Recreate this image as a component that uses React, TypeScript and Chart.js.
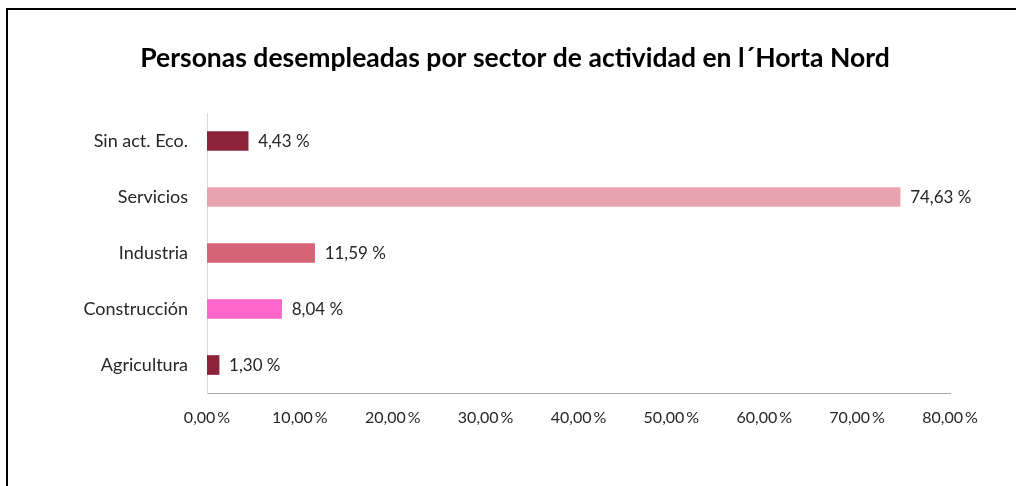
import React, { useEffect, useRef } from "react";
import { Chart, registerables } from "chart.js";

Chart.register(...registerables);

const TITLE = "Personas desempleadas por sector de actividad en l´Horta Nord";
const CATEGORIES = ["Sin act. Eco.", "Servicios", "Industria", "Construcción", "Agricultura"];
const VALUES = [4.43, 74.63, 11.59, 8.04, 1.3];
const COLORS = ["#8C2339", "#E8A3AF", "#D66376", "#FF66CC", "#8C2339"];
const X_MIN = 0;
const X_MAX = 80;
const X_STEP = 10;

const FONT = "Lato, 'Open Sans', sans-serif";

const fmt = (v: number) => v.toFixed(2).replace(".", ",");

const titlePlugin = {
  id: "customTitle",
  afterDraw(chart: any) {
    const ctx = chart.ctx;
    ctx.save();
    ctx.font = `bold 26.5px ${FONT}`;
    ctx.fillStyle = "#000000";
    ctx.textAlign = "center";
    ctx.textBaseline = "middle";
    ctx.fillText(TITLE, 515, 58);
    ctx.restore();
  },
};

const valueLabels = {
  id: "valueLabels",
  afterDatasetsDraw(chart: any) {
    const ctx = chart.ctx;
    const meta = chart.getDatasetMeta(0);
    ctx.save();
    ctx.font = `17px ${FONT}`;
    ctx.fillStyle = "#262626";
    ctx.textAlign = "left";
    ctx.textBaseline = "middle";
    meta.data.forEach((bar: any, i: number) => {
      ctx.fillText(fmt(VALUES[i]) + " %", bar.x + 10, bar.y + 1);
    });
    ctx.restore();
  },
};

export default function App() {
  const ref = useRef<HTMLCanvasElement | null>(null);
  useEffect(() => {
    if (!ref.current) return;
    const chart = new Chart(ref.current, {
      type: "bar",
      data: {
        labels: CATEGORIES,
        datasets: [
          {
            data: VALUES,
            backgroundColor: COLORS,
            borderWidth: 0,
            barThickness: 19,
          },
        ],
      },
      options: {
        indexAxis: "y",
        animation: false,
        responsive: false,
        maintainAspectRatio: false,
        layout: { padding: { left: 77, right: 66, top: 113, bottom: 53 } },
        plugins: {
          legend: { display: false },
          title: { display: false },
          tooltip: { enabled: false },
        },
        scales: {
          x: {
            min: X_MIN,
            max: X_MAX,
            ticks: {
              stepSize: X_STEP,
              padding: 15,
              color: "#262626",
              font: { family: FONT, size: 16 },
              callback: (v: any) => fmt(Number(v)) + "\u2009%",
              maxRotation: 0,
            },
            grid: { display: false, drawTicks: false },
            border: { display: true, color: "#A6A6A6", width: 1 },
            afterFit: (s: any) => {
              s.height = 40;
            },
          },
          y: {
            ticks: {
              padding: 19,
              color: "#262626",
              font: { family: FONT, size: 18 },
            },
            grid: { display: false, drawTicks: false },
            border: { display: true, color: "#D9D9D9", width: 1 },
            afterFit: (s: any) => {
              s.width = 130;
            },
          },
        },
      },
      plugins: [titlePlugin, valueLabels],
    });
    return () => chart.destroy();
  }, []);

  return (
    <div style={{ position: "fixed", left: 0, top: 0, width: 1016, height: 486, background: "#fff", overflow: "hidden" }}>
      <div
        style={{
          position: "absolute",
          left: 6,
          top: 8,
          width: 1012,
          height: 480,
          borderTop: "2px solid #000",
          borderLeft: "2px solid #000",
        }}
      />
      <canvas ref={ref} width={1016} height={486} style={{ position: "absolute", left: 0, top: 0, display: "block" }} />
    </div>
  );
}
